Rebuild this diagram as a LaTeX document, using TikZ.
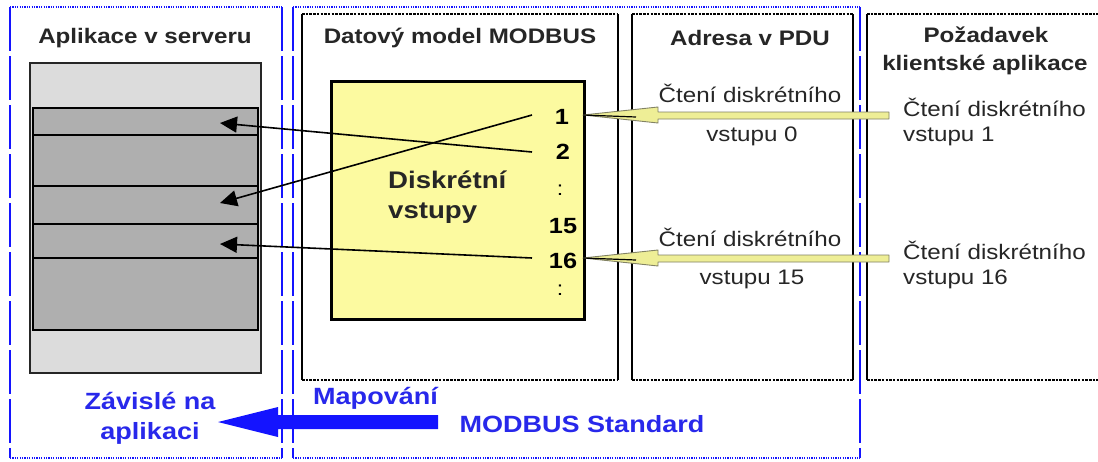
\documentclass[tikz,border=0pt]{standalone}
\usepackage{fontspec}
\setmainfont{Liberation Sans}[FakeStretch=1.15]
\usetikzlibrary{arrows.meta}
\definecolor{bluebox}{RGB}{20,20,255}
\definecolor{bluetext}{RGB}{40,40,235}
\definecolor{lightgr}{RGB}{220,220,220}
\definecolor{darkgr}{RGB}{175,175,175}
\definecolor{yelbox}{RGB}{252,250,160}
\definecolor{yelarrow}{RGB}{238,238,150}
\definecolor{arrowedge}{RGB}{130,130,100}
\begin{document}
\begin{tikzpicture}[x=1pt,y=-1pt,
  bluedash/.style={draw=bluebox,line width=1.6pt,dash pattern=on 44pt off 5pt},
  bluedot/.style={draw=bluebox,line width=2pt,dash pattern=on 1.2pt off 1.2pt},
  blkside/.style={draw=black,line width=2pt},
  blkdot/.style={draw=black,line width=2.2pt,dash pattern=on 2.5pt off 1.2pt},
  hdr/.style={font=\bfseries\fontsize{21}{24}\selectfont,text=black!85,inner sep=0pt},
  txt/.style={font=\fontsize{21}{24}\selectfont,text=black!85,inner sep=0pt},
  num/.style={font=\bfseries\fontsize{22}{24}\selectfont,inner sep=0pt},
  dots/.style={font=\fontsize{20}{22}\selectfont,inner sep=0pt},
  btxt/.style={font=\bfseries\fontsize{23.5}{26}\selectfont,text=bluetext,inner sep=0pt},
  rowbox/.style={draw=black,line width=1.5pt,fill=darkgr,anchor=north west,minimum width=225pt,inner sep=0pt,outer sep=0pt},
  conn/.style={draw=black,line width=1.6pt,-{Triangle[length=17pt,width=16pt]}},
  yarrow/.style={fill=yelarrow,draw=arrowedge,line width=0.9pt,line join=round}
]
\useasboundingbox (0,0) rectangle (1098,461);
\fill[white] (0,0) rectangle (1098,461);

% blue frames
\draw[bluedash] (10,7) -- (10,458) (282,7) -- (282,458);
\draw[bluedot] (10,7) -- (282,7) (10,458) -- (282,458);
\draw[bluedash] (293,7) -- (293,458) (860,7) -- (860,458);
\draw[bluedot] (293,7) -- (860,7) (293,458) -- (860,458);

% black frames
\draw[blkside] (302,14) -- (302,380) (618,14) -- (618,380);
\draw[blkdot] (302,14) -- (618,14) (302,380) -- (618,380);
\draw[blkside] (632,14) -- (632,380) (853,14) -- (853,380);
\draw[blkdot] (632,14) -- (853,14) (632,380) -- (853,380);
\draw[blkside] (867,14) -- (867,380);
\draw[blkdot] (867,14) -- (1098,14) (867,380) -- (1098,380);

% headers
\node[hdr] (h1) at (145,38) {Aplikace v serveru};
\node[hdr] (h2) at (460,38) {Datový model MODBUS};
\node[hdr] (h3) at (750,38) {Adresa v PDU};
\node[hdr] (h4) at (986,35) {Požadavek};
\node[hdr] (h5) at (985,65) {klientské aplikace};

% server stack
\node[draw=black!85,line width=1.5pt,fill=lightgr,anchor=north west,minimum width=231pt,minimum height=310pt,inner sep=0pt,outer sep=0pt] (stack) at (30,63) {};
\node[rowbox,minimum height=27pt] (row1) at (33,108) {};
\node[rowbox,minimum height=51pt] (row2) at (33,135) {};
\node[rowbox,minimum height=38pt] (row3) at (33,186) {};
\node[rowbox,minimum height=34pt] (row4) at (33,224) {};
\node[rowbox,minimum height=72pt] (row5) at (33,258) {};
\draw[black,line width=2.8pt] (33,108) rectangle (258,330);

% data model box
\node[draw=black,line width=3pt,fill=yelbox,anchor=north west,minimum width=253pt,minimum height=238pt,inner sep=0pt] (dm) at (330,80) {};
\node[font=\bfseries\fontsize{24}{26}\selectfont,text=black!85,anchor=west,inner sep=0pt] (dk) at (388,180) {Diskrétní};
\node[font=\bfseries\fontsize{24}{26}\selectfont,text=black!85,anchor=west,inner sep=0pt] (vs) at (388,213) {vstupy};
\node[num] (n1) at (562,117) {1};
\node[num] (n2) at (563,152) {2};
\node[dots] (d1) at (560,190) {:};
\node[num] (n15) at (563,226) {15};
\node[num] (n16) at (563,261) {16};
\node[dots] (d2) at (560,290) {:};

% connector coordinates
\coordinate (s1) at (532,115);
\coordinate (s2) at (532,152);
\coordinate (s16) at (532,258);
\coordinate (t1) at (220,123);
\coordinate (t3) at (220,203);
\coordinate (t4) at (220,244);
\draw[conn] (s2) -- (t1);
\draw[conn] (s1) -- (t3);
\draw[conn] (s16) -- (t4);

% yellow arrows
\coordinate (ya) at (583,115);
\coordinate (yb) at (583,258);
\filldraw[yarrow] (ya) -- (658,107) -- (658,112) -- (889,112) -- (889,119) -- (658,119) -- (658,123) -- cycle;
\filldraw[yarrow] (yb) -- (658,250) -- (658,255) -- (889,255) -- (889,262) -- (658,262) -- (658,266) -- cycle;
\draw[black,line width=1.2pt] (ya) -- (636,117);
\draw[black,line width=1.2pt] (yb) -- (636,260);

% PDU texts
\node[txt] (p1) at (750,93) {Čtení diskrétního};
\node[txt] (p2) at (752,136) {vstupu 0};
\node[txt] (p3) at (750,237) {Čtení diskrétního};
\node[txt] (p4) at (752,279) {vstupu 15};

% client texts
\node[txt,anchor=west] (c1) at (903,107) {Čtení diskrétního};
\node[txt,anchor=west] (c2) at (903,136) {vstupu 1};
\node[txt,anchor=west] (c3) at (903,250) {Čtení diskrétního};
\node[txt,anchor=west] (c4) at (903,279) {vstupu 16};

% blue bottom
\node[btxt] (z1) at (150,401) {Závislé na};
\node[btxt] (z2) at (150,433) {aplikaci};
\node[btxt,anchor=west] (mp) at (313,398) {Mapování};
\node[btxt] (ms) at (582,424) {MODBUS Standard};
\fill[bluebox] (438,415) -- (278,415) -- (278,407) -- (218,422) -- (278,437) -- (278,429) -- (438,429) -- cycle;
\end{tikzpicture}
\end{document}
